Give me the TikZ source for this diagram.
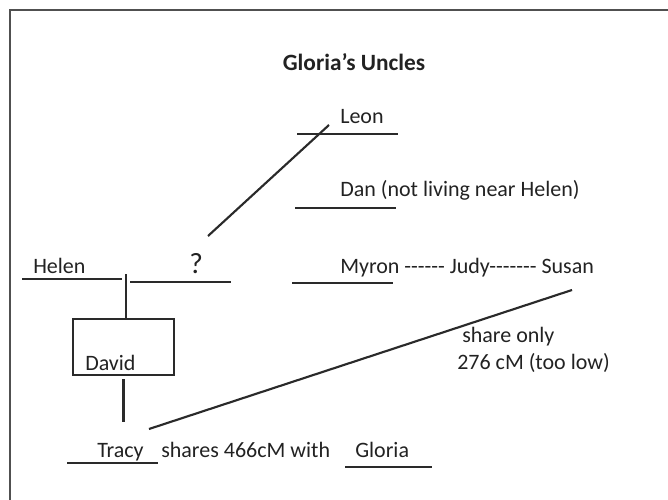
\documentclass[tikz,border=0pt]{standalone}
\usepackage{fontspec}
\setmainfont{Carlito}
\definecolor{ink}{HTML}{222222}
\definecolor{rulec}{HTML}{2a2a2a}
\definecolor{framec}{HTML}{505050}
\begin{document}
\begin{tikzpicture}[x=0.75pt,y=-0.75pt,
  txt/.style={font=\fontsize{16.5}{19}\selectfont, text=ink, inner sep=0pt, anchor=base west},
  ul/.style={draw=rulec, line width=1.9pt},
  ln/.style={draw=rulec, line width=1.6pt},
  boxst/.style={draw=rulec, line width=1.8pt, minimum width=75.75pt, minimum height=42pt, inner sep=0pt}]
\useasboundingbox (0,0) rectangle (668,500);
% frame
\coordinate (fbl) at (10,502);
\coordinate (ftl) at (10,10);
\coordinate (ftr) at (670,10);
\draw[draw=framec, line width=1.5pt] (fbl) -- (ftl) -- (ftr);
% texts
\node[txt, anchor=base, font=\fontsize{17.5}{20}\selectfont\bfseries] (title) at (354,70) {Gloria’s Uncles};
\node[txt] (leon) at (340,123) {Leon};
\node[txt] (dan) at (340,196) {Dan (not living near Helen)};
\node[txt] (helen) at (33,273) {Helen};
\node[txt, font=\fontsize{22}{26}\selectfont] (q) at (189,273) {?};
\node[txt] (myron) at (340,273) {Myron -{}-{}-{}-{}-{}- Judy-{}-{}-{}-{}-{}-{}- Susan};
\node[txt] (david) at (85,370) {David};
\node[txt] (tracy) at (97,457) {Tracy};
\node[txt] (shares) at (161,457) {shares 466cM with};
\node[txt] (gloria) at (355,457) {Gloria};
\node[txt] (shareonly) at (462,342) {share only};
\node[txt] (low) at (457,369) {276 cM (too low)};
% box
\node[boxst] (davidbox) at (123.5,347) {};
% underlines
\coordinate (leonA) at (297,134); \coordinate (leonB) at (398,134);
\coordinate (danA) at (295,208); \coordinate (danB) at (396,208);
\coordinate (helenA) at (22,279); \coordinate (helenB) at (122,279);
\coordinate (qA) at (130,282); \coordinate (qB) at (231,282);
\coordinate (myronA) at (292,283); \coordinate (myronB) at (393,283);
\coordinate (tracyA) at (67,463); \coordinate (tracyB) at (158,463);
\coordinate (gloriaA) at (345,467); \coordinate (gloriaB) at (432,467);
\draw[ul] (leonA) -- (leonB);
\draw[ul] (danA) -- (danB);
\draw[ul] (helenA) -- (helenB);
\draw[ul] (qA) -- (qB);
\draw[ul] (myronA) -- (myronB);
\draw[ul] (tracyA) -- (tracyB);
\draw[ul] (gloriaA) -- (gloriaB);
% connectors
\coordinate (qlow) at (208,236); \coordinate (qhigh) at (329,125);
\draw[ln] (qlow) -- (qhigh);
\coordinate (tick) at (126,274);
\draw[ln] (tick) -- (tick |- davidbox.north);
\coordinate (dd1) at (123.5,379); \coordinate (dd2) at (123.5,422);
\draw[ln] (dd1) -- (dd2);
\coordinate (tr) at (149,429); \coordinate (su) at (572,290);
\draw[ln] (tr) -- (su);
\end{tikzpicture}
\end{document}
